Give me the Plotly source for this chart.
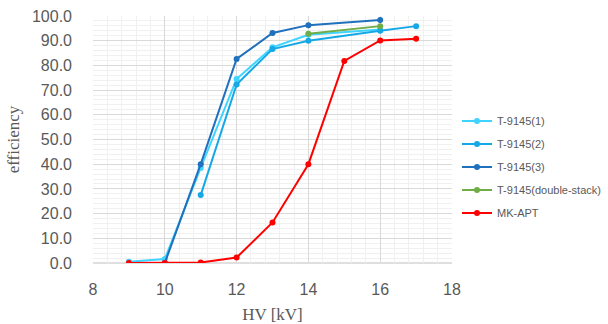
import plotly.graph_objects as go

x_t1 = [9, 10, 11, 12, 13, 14, 16]
y_t1 = [0.5, 1.6, 38.5, 74.5, 87.3, 92.4, 94.5]

x_t2 = [11, 12, 13, 14, 16, 17]
y_t2 = [27.5, 72.3, 86.6, 90.0, 94.0, 95.9]

x_t3 = [10, 11, 12, 13, 14, 16]
y_t3 = [0.0, 40.0, 82.6, 93.1, 96.3, 98.4]

x_ds = [14, 16]
y_ds = [92.8, 95.9]

x_mk = [9, 10, 11, 12, 13, 14, 15, 16, 17]
y_mk = [0.0, 0.0, 0.2, 2.2, 16.4, 40.0, 81.8, 90.1, 90.8]

names = ["T-9145(1)", "T-9145(2)", "T-9145(3)", "T-9145(double-stack)", "MK-APT"]
colors = ["#3FD4FF", "#14A9E6", "#1F70BD", "#70AD47", "#FF0000"]
series = [(x_t1, y_t1), (x_t2, y_t2), (x_t3, y_t3), (x_ds, y_ds), (x_mk, y_mk)]

fig = go.Figure()
for i, ((xs, ys), n, c) in enumerate(zip(series, names, colors)):
    fig.add_trace(go.Scatter(
        x=xs, y=ys, name=n, mode="lines+markers",
        line=dict(color=c, width=2),
        marker=dict(color=c, size=6),
        legendgroup="g%d" % i,
    ))

grid_major = "#D9D9D9"
grid_minor = "#F0F0F0"
tick_font = dict(family="Liberation Sans, Arial", size=16, color="#595959")
title_font = dict(family="Liberation Serif, Times New Roman", size=17, color="#595959")

fig.update_layout(
    width=608, height=324,
    margin=dict(l=93, r=156, t=16, b=61, autoexpand=False),
    paper_bgcolor="white", plot_bgcolor="white",
    showlegend=True,
    legend=dict(
        xref="container", yref="container",
        x=457 / 608, y=1 - 167 / 324, xanchor="left", yanchor="middle",
        font=dict(family="Liberation Sans, Arial", size=11, color="#595959"),
        tracegroupgap=4, traceorder="grouped",
        itemwidth=30, bgcolor="rgba(0,0,0,0)",
    ),
    xaxis=dict(
        range=[8, 18], dtick=2, tick0=8,
        showgrid=True, gridcolor=grid_major, gridwidth=1,
        minor=dict(dtick=0.4, showgrid=True, gridcolor=grid_minor),
        zeroline=False, showline=False,
        tickfont=tick_font, ticks="", ticklabelstandoff=15,
        title=dict(text="HV [kV]", font=title_font, standoff=11),
    ),
    yaxis=dict(
        range=[0, 100], dtick=10, tick0=0,
        tickformat=".1f",
        showgrid=True, gridcolor=grid_major, gridwidth=1,
        minor=dict(dtick=2, showgrid=True, gridcolor=grid_minor),
        zeroline=False, showline=False,
        tickfont=tick_font, ticks="", ticklabelstandoff=20,
        title=dict(text="efficiency", font=title_font, standoff=8),
    ),
)
fig.add_shape(type="line", xref="paper", yref="paper", x0=0, x1=1, y0=0, y1=0,
              line=dict(color="#BFBFBF", width=1), layer="below")

fig.write_html("out.html")
